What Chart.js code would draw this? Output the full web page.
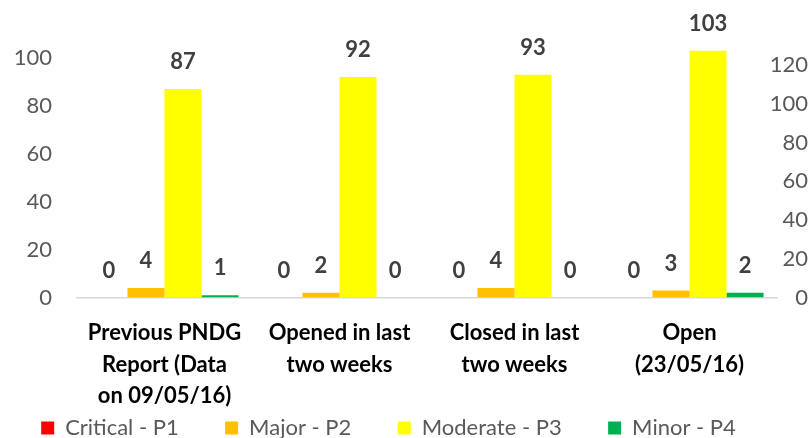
<!DOCTYPE html>
<html>
<head>
    <title>Issues by priority</title>
    <script src="https://cdn.jsdelivr.net/npm/chart.js"></script>
    <style>
        body { margin: 0; background: #fff; }
        #wrap { width: 811px; height: 438px; }
    </style>
</head>
<body>
    <div id="wrap"><canvas id="issuesChart"></canvas></div>
    <script>
        // Categories and series
        const categories = [
            ['Previous PNDG', 'Report (Data', 'on 09/05/16)'],
            ['Opened in last', 'two weeks'],
            ['Closed in last', 'two weeks'],
            ['Open', '(23/05/16)']
        ];
        const seriesNames = ['Critical - P1', 'Major - P2', 'Moderate - P3', 'Minor - P4'];
        const critical = [0, 0, 0, 0];
        const major = [4, 2, 4, 3];
        const moderate = [87, 92, 93, 103];
        const minor = [1, 0, 0, 2];

        const leftTicks = [0, 20, 40, 60, 80, 100];
        const rightTicks = [0, 20, 40, 60, 80, 100, 120];

        // value labels above the bars
        const valueLabels = {
            id: 'valueLabels',
            afterDatasetsDraw(chart) {
                const ctx = chart.ctx;
                ctx.save();
                ctx.font = 'bold 22px Lato';
                ctx.fillStyle = '#404040';
                ctx.textAlign = 'center';
                ctx.textBaseline = 'middle';
                chart.data.datasets.forEach((ds, i) => {
                    chart.getDatasetMeta(i).data.forEach((bar, j) => {
                        ctx.fillText(ds.data[j], bar.x, bar.y - 27);
                    });
                });
                ctx.restore();
            }
        };

        // legend entries sit far apart, so pad all but the last one with spaces
        const gap = '\u00a0'.repeat(7);

        // y axes: keep tick padding from pushing the plot area down
        function noVerticalPad(scale) {
            scale.paddingTop = 0;
            scale.paddingBottom = 0;
        }

        const ctx = document.getElementById('issuesChart').getContext('2d');
        const chart = new Chart(ctx, {
            type: 'bar',
            data: {
                labels: categories,
                datasets: [
                    { label: seriesNames[0], data: critical, backgroundColor: '#ff0000' },
                    { label: seriesNames[1], data: major, backgroundColor: '#ffc000' },
                    { label: seriesNames[2], data: moderate, backgroundColor: '#ffff00' },
                    { label: seriesNames[3], data: minor, backgroundColor: '#00b050' }
                ]
            },
            plugins: [valueLabels],
            options: {
                responsive: true,
                maintainAspectRatio: false,
                animation: false,
                layout: { padding: { top: 26, right: 34, bottom: -11, left: 0 } },
                datasets: { bar: { categoryPercentage: 0.846, barPercentage: 1 } },
                plugins: {
                    tooltip: { enabled: false },
                    legend: {
                        position: 'bottom',
                        labels: {
                            boxWidth: 13,
                            boxHeight: 13,
                            padding: 7,
                            color: '#595959',
                            font: { family: 'Lato', size: 22 },
                            generateLabels(chart) {
                                const items = Chart.defaults.plugins.legend.labels.generateLabels(chart);
                                items.forEach((it, i) => {
                                    if (i < items.length - 1) it.text = it.text + gap;
                                });
                                return items;
                            }
                        }
                    }
                },
                scales: {
                    x: {
                        grid: { display: false, drawTicks: false },
                        border: { display: true, color: '#d9d9d9', width: 1.5 },
                        ticks: {
                            color: '#000',
                            padding: 20,
                            maxRotation: 0,
                            autoSkip: false,
                            font: { family: 'Lato', size: 22, weight: 'bold', lineHeight: 1.43 }
                        },
                        afterFit(scale) { scale.height -= 22; }
                    },
                    y: {
                        position: 'left',
                        min: 0,
                        max: 113.3,
                        grid: { display: false, drawTicks: false },
                        border: { display: false },
                        afterBuildTicks(scale) { scale.ticks = leftTicks.map(v => ({ value: v })); },
                        ticks: {
                            color: '#595959',
                            padding: 25,
                            font: { family: 'Lato', size: 22 }
                        },
                        afterFit(scale) {
                            scale.width = 77;
                            noVerticalPad(scale);
                        }
                    },
                    y1: {
                        position: 'right',
                        display: true,
                        min: 0,
                        max: 140,
                        grid: { display: false, drawTicks: false },
                        border: { display: false },
                        afterBuildTicks(scale) { scale.ticks = rightTicks.map(v => ({ value: v })); },
                        ticks: {
                            color: '#595959',
                            mirror: true,
                            padding: 31,
                            font: { family: 'Lato', size: 22 }
                        },
                        afterFit(scale) {
                            scale.width = 0;
                            noVerticalPad(scale);
                        }
                    }
                }
            }
        });
    </script>
</body>
</html>
